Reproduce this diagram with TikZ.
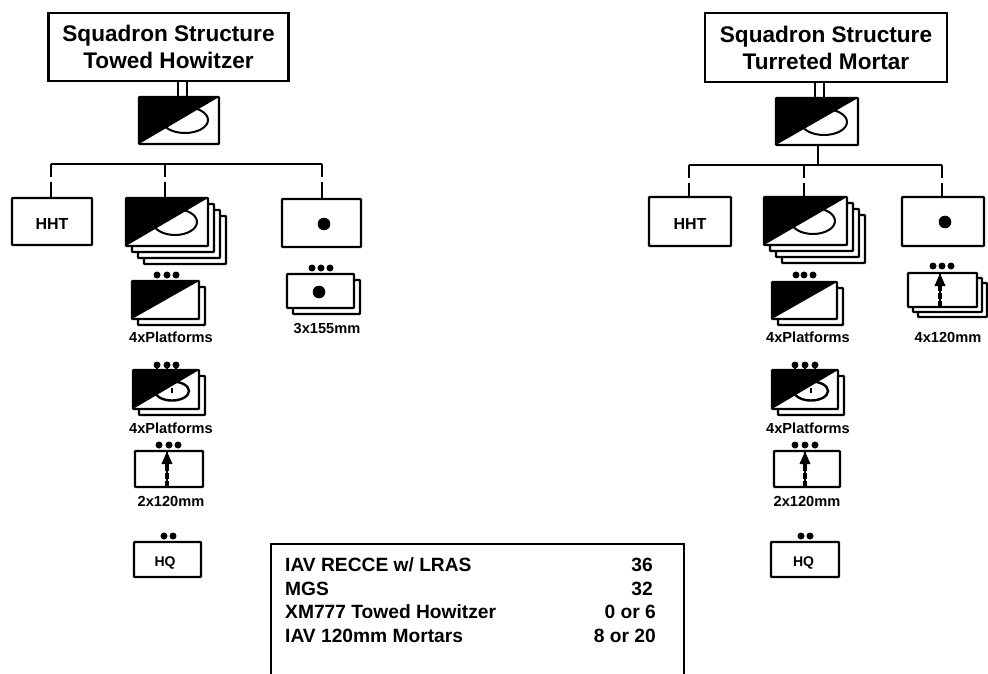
\documentclass[tikz,border=0pt]{standalone}
\usepackage{fontspec}
\setmainfont{Liberation Sans}
\usetikzlibrary{arrows.meta}
\tikzset{
  unit/.style={draw=black,fill=white,line width=2.4pt,inner sep=0pt,outer sep=0pt,rounded corners=0.8pt},
  titlebox/.style={draw=black,fill=white,line width=2.8pt,inner sep=0pt,outer sep=0pt,align=center,
     font=\fontsize{22.6}{27}\selectfont\bfseries},
  link/.style={draw=black,line width=1.5pt},
  droplink/.style={draw=black,line width=1.6pt,dash pattern=on 13pt off 5pt on 20pt},
  unitlabel/.style={font=\fontsize{14.6}{16}\selectfont\bfseries,inner sep=0pt},
  legendtext/.style={font=\fontsize{19.2}{21}\selectfont\bfseries,inner sep=0pt},
  ringline/.style={draw=black,line width=2pt},
  weaponcore/.style={draw=black,line width=1.6pt},
  weapon/.style={draw=black,line width=3.4pt,dash pattern=on 6pt off 2pt on 6pt off 2pt on 40pt,
     -{Triangle[length=13pt,width=10pt]}},
}
\newcommand\ubox[6]{%
  \pgfmathsetmacro\uCx{(#2+#4)/2}\pgfmathsetmacro\uCy{(#3+#5)/2}%
  \pgfmathsetmacro\uW{#4-#2}\pgfmathsetmacro\uH{#5-#3}%
  \node[unit,minimum width=\uW pt,minimum height=\uH pt] (#1) at (\uCx,\uCy) {#6};}
% name, x1,y1,x2,y2, step, copies behind
\newcommand\ustack[7]{%
  \foreach \k in {#7,...,1}{%
    \pgfmathsetmacro\oA{#2+\k*#6}\pgfmathsetmacro\oB{#3+\k*#6}%
    \pgfmathsetmacro\oC{#4+\k*#6}\pgfmathsetmacro\oD{#5+\k*#6}%
    \ubox{#1-\k}{\oA}{\oB}{\oC}{\oD}{}}%
  \ubox{#1}{#2}{#3}{#4}{#5}{}}
\newcommand\blackhalf[1]{\fill[black,rounded corners=0.8pt] (#1.north west) -- (#1.north east) -- (#1.south west) -- cycle;}
\newcommand\tdots[2]{\foreach \q in {#2}{\fill[black] (\q,#1) circle (3.5);}}
\newcommand\hhttext{\fontsize{16}{18}\selectfont\bfseries\raisebox{0pt}[15.5pt][0pt]{HHT}}
\newcommand\hqtext[1]{\fontsize{14}{16}\selectfont\bfseries\raisebox{0pt}[14pt][0pt]{HQ}\kern#1pt}
\begin{document}
\begin{tikzpicture}[x=1pt,y=-1pt]
\useasboundingbox (0,0) rectangle (988,674);

%%%%% LEFT
\node[titlebox,minimum width=240pt,minimum height=68pt] (ltitle) at (168.5,47) {Squadron Structure\\Towed Howitzer};
\ubox{lhq}{139}{97}{219}{144}{}
\draw[ringline] (185,120) ellipse (23 and 13);
\blackhalf{lhq}
\coordinate (lu1) at (178,97); \coordinate (lu2) at (187,97);
\draw[link] (lu1 |- ltitle.south) -- (lu1);
\draw[link] (lu2 |- ltitle.south) -- (lu2);
\coordinate (lbus) at (179,164);
\draw[link] (lbus -| lhq.south) -- (lbus);
\coordinate (ld1) at (51,164); \coordinate (ld2) at (165,164); \coordinate (ld3) at (322,164);
\draw[link] (ld1) -- (ld3);

\ubox{lhht}{12}{198}{92}{245}{\hhttext}
\ustack{lrec}{126}{198}{208}{246}{6}{3}
\draw[ringline] (175,222) ellipse (22 and 13);
\blackhalf{lrec}
\ubox{lbat}{282}{199}{361}{247}{}
\fill[black] (324,224) circle (6.3);
\draw[droplink] (ld1) -- (ld1 |- lhht.north);
\draw[droplink] (ld2) -- (ld2 |- lrec.north);
\draw[droplink] (ld3) -- (ld3 |- lbat.north);

\tdots{275}{157,167,176}
\ustack{lp1}{132}{281}{199}{319}{6}{1}
\blackhalf{lp1}
\node[unitlabel] (lp1t) at (171,337) {4xPlatforms};

\tdots{365}{157,167,176}
\ustack{lp2}{133}{370}{199}{409}{6}{1}
\draw[ringline,line width=2.4pt] (172,391) ellipse (17 and 9.5);
\draw[line width=1.4pt] (172,388) -- (172,393);
\blackhalf{lp2}
\draw[line width=1.2pt] (157,365) -- (157,371) (167,365) -- (167,371) (176,365) -- (176,371);
\node[unitlabel] (lp2t) at (171,428) {4xPlatforms};

\tdots{445}{159,169,178}
\ubox{lm}{135}{451}{203}{487}{}
\coordinate (lmx) at (167,451);
\draw[weaponcore] (lmx |- lm.south) -- (lmx);
\draw[weapon] (lmx |- lm.south) -- (lmx);
\node[unitlabel] (lmt) at (171,501) {2x120mm};

\tdots{536}{164,173}
\ubox{lh}{134}{542}{201}{577}{\hqtext{5}}
\tdots{268}{312,321,330}
\ustack{lg}{287}{274}{354}{308}{6}{1}
\fill[black] (319,292) circle (6.3);
\node[unitlabel] (lgt) at (327,328) {3x155mm};

%%%%% RIGHT
\node[titlebox,minimum width=242pt,minimum height=69pt] (rtitle) at (826,47.5) {Squadron Structure\\Turreted Mortar};
\ubox{rhq}{776}{98}{858}{145}{}
\draw[ringline] (824,122) ellipse (23 and 13);
\blackhalf{rhq}
\coordinate (ru1) at (815,98); \coordinate (ru2) at (824,98);
\draw[link] (ru1 |- rtitle.south) -- (ru1);
\draw[link] (ru2 |- rtitle.south) -- (ru2);
\coordinate (rbus) at (818,165);
\draw[link] (rbus |- rhq.south) -- (rbus);
\coordinate (rd1) at (689,165); \coordinate (rd2) at (804,165); \coordinate (rd3) at (942,165);
\draw[link] (rd1) -- (rd3);

\ubox{rhht}{649}{197}{731}{246}{\hhttext}
\ustack{rrec}{764}{197}{847}{245}{6}{3}
\draw[ringline] (813,221) ellipse (22 and 13);
\blackhalf{rrec}
\ubox{rbat}{902}{197}{984}{246}{}
\fill[black] (945,222) circle (6.3);
\draw[droplink] (rd1) -- (rd1 |- rhht.north);
\draw[droplink] (rd2) -- (rd2 |- rrec.north);
\draw[droplink] (rd3) -- (rd3 |- rbat.north);

\tdots{275}{796,804,813}
\ustack{rp1}{772}{282}{837}{319}{6}{1}
\blackhalf{rp1}
\node[unitlabel] (rp1t) at (808,337) {4xPlatforms};

\tdots{365}{795,805,815}
\ustack{rp2}{772}{370}{838}{409}{6}{1}
\draw[ringline,line width=2.4pt] (811,391) ellipse (17 and 9.5);
\draw[line width=1.4pt] (811,388) -- (811,393);
\blackhalf{rp2}
\draw[line width=1.2pt] (795,365) -- (795,371) (805,365) -- (805,371) (815,365) -- (815,371);
\node[unitlabel] (rp2t) at (808,428) {4xPlatforms};

\tdots{445}{795,805,815}
\ubox{rm}{774}{451}{840}{487}{}
\coordinate (rmx) at (805,451);
\draw[weaponcore] (rmx |- rm.south) -- (rmx);
\draw[weapon] (rmx |- rm.south) -- (rmx);
\node[unitlabel] (rmt) at (807,501) {2x120mm};

\tdots{536}{801,810}
\ubox{rh}{771}{542}{839}{577}{\hqtext{3}}

\tdots{266}{933,942,951}
\ustack{rg}{908}{273}{977}{307}{5}{2}
\coordinate (rgx) at (940,273);
\draw[weaponcore] (rgx |- rg.south) -- (rgx);
\draw[weapon] (rgx |- rg.south) -- (rgx);
\node[unitlabel] (rgt) at (948,337) {4x120mm};

%%%%% LEGEND
\draw[black,line width=2.2pt] (271,674) -- (271,544) -- (684,544) -- (684,674);
\node[legendtext,anchor=west] (la) at (285,565) {IAV RECCE w/ LRAS};
\node[legendtext,anchor=west] (lb) at (285,589) {MGS};
\node[legendtext,anchor=west] (lc) at (285,612) {XM777 Towed Howitzer};
\node[legendtext,anchor=west] (ld) at (285,636) {IAV 120mm Mortars};
\node[legendtext,anchor=east] (va) at (653,565) {36};
\node[legendtext,anchor=east] (vb) at (653,589) {32};
\node[legendtext,anchor=east] (vc) at (656,612) {0 or 6};
\node[legendtext,anchor=east] (vd) at (656,636) {8 or 20};
\end{tikzpicture}
\end{document}
